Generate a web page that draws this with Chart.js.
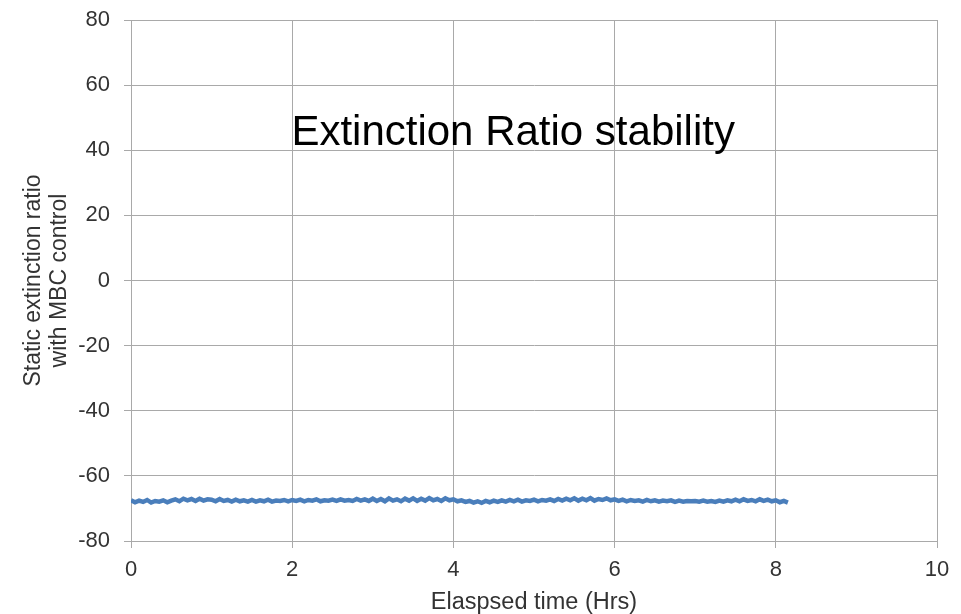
<!DOCTYPE html>
<html>
<head>
<meta charset="utf-8">
<script src="https://cdn.jsdelivr.net/npm/chart.js@4"></script>
<style>
    body { margin: 0; background: #fff; }
    #wrap { width: 961px; height: 614px; position: relative; }
</style>
</head>
<body>
<div id="wrap"><canvas id="erChart"></canvas></div>
<script>
// Extinction ratio stability data (sampled every 0.05 hrs)
const sampleStepHrs = 0.05;
const extinctionRatio = [
    -67.5, -68.1, -67.6, -68.0, -67.4, -68.2, -67.7, -67.9, -67.5, -68.1,
    -67.6, -67.2, -67.8, -67.0, -67.5, -67.1, -67.7, -67.0, -67.6, -67.2,
    -67.3, -67.8, -67.1, -67.7, -67.4, -67.9, -67.3, -67.8, -67.5, -67.9,
    -67.4, -67.9, -67.5, -67.8, -67.3, -67.9, -67.6, -67.7, -67.4, -67.8,
    -67.4, -67.7, -67.3, -67.8, -67.4, -67.6, -67.2, -67.8, -67.5, -67.6,
    -67.3, -67.7, -67.2, -67.6, -67.4, -67.7, -67.1, -67.6, -67.2, -67.7,
    -67.0, -67.7, -67.1, -67.8, -66.9, -67.6, -67.2, -67.8, -67.0, -67.6,
    -66.9, -67.7, -67.0, -67.6, -66.8, -67.5, -67.1, -67.7, -66.9, -67.5,
    -67.2, -67.8, -67.5, -68.0, -67.7, -68.2, -67.8, -68.3, -67.7, -68.1,
    -67.6, -68.0, -67.5, -67.9, -67.4, -67.8, -67.3, -67.9, -67.5, -67.7,
    -67.3, -67.8, -67.4, -67.6, -67.2, -67.7, -67.1, -67.6, -67.0, -67.5,
    -66.9, -67.6, -67.0, -67.5, -66.8, -67.6, -67.1, -67.4, -66.9, -67.5,
    -67.2, -67.7, -67.3, -67.8, -67.4, -67.7, -67.5, -67.9, -67.4, -67.8,
    -67.5, -67.9, -67.6, -67.8, -67.5, -68.0, -67.6, -67.9, -67.7, -67.8,
    -67.7, -67.9, -67.6, -67.9, -67.7, -68.0, -67.6, -67.9, -67.5, -67.8,
    -67.3, -67.8, -67.2, -67.7, -67.4, -67.8, -67.2, -67.7, -67.3, -67.8,
    -67.5, -68.1, -67.7, -68.2
];
const xTicks = [0, 2, 4, 6, 8, 10];
const yTicks = [-80, -60, -40, -20, 0, 20, 40, 60, 80];
const chartTitle = 'Extinction Ratio stability';
const xTitle = 'Elaspsed time (Hrs)';
const yTitle = ['Static extinction ratio', 'with MBC control'];

const points = extinctionRatio.map((v, i) => ({ x: i * sampleStepHrs, y: v }));

Chart.defaults.font.family = '"Liberation Sans", Arial, sans-serif';
Chart.defaults.color = '#333333';

// title sits inside the plot area, left edge on the x=2 gridline
const innerTitle = {
    id: 'innerTitle',
    afterDatasetsDraw(chart) {
        const c = chart.ctx;
        const x = chart.scales.x.getPixelForValue(1.99);
        const y = chart.scales.y.getPixelForValue(41.6);
        c.save();
        c.font = '42px "Liberation Sans", Arial, sans-serif';
        c.fillStyle = '#000000';
        c.textAlign = 'left';
        c.textBaseline = 'alphabetic';
        c.fillText(chartTitle, x, y);
        c.restore();
    }
};

const gridColor = '#a9a9a9';

var ctx = document.getElementById('erChart');
var erChart = new Chart(ctx, {
    type: 'line',
    data: {
        datasets: [{
            data: points,
            borderColor: '#4a7ebb',
            backgroundColor: '#4a7ebb',
            borderWidth: 4.5,
            pointRadius: 0,
            tension: 0,
            fill: false
        }]
    },
    options: {
        responsive: true,
        maintainAspectRatio: false,
        animation: false,
        layout: {
            padding: { left: 0, right: 24, top: 20, bottom: 0 }
        },
        scales: {
            x: {
                type: 'linear',
                min: xTicks[0],
                max: xTicks[xTicks.length - 1],
                afterBuildTicks: (scale) => { scale.ticks = xTicks.map(v => ({ value: v })); },
                afterFit: (scale) => { scale.height = 73; scale.paddingLeft = 0; scale.paddingRight = 0; },
                grid: { color: gridColor, tickColor: gridColor, tickLength: 7 },
                border: { color: gridColor },
                ticks: { font: { size: 22 }, color: '#333333', padding: 9 },
                title: {
                    display: true,
                    text: xTitle,
                    font: { size: 23.5, lineHeight: 1 },
                    color: '#333333',
                    padding: { top: 0, bottom: 0 }
                }
            },
            y: {
                min: yTicks[0],
                max: yTicks[yTicks.length - 1],
                afterBuildTicks: (scale) => { scale.ticks = yTicks.map(v => ({ value: v })); },
                afterFit: (scale) => { scale.width = 131; scale.paddingTop = 0; scale.paddingBottom = 0; },
                grid: { color: gridColor, tickColor: gridColor, tickLength: 7 },
                border: { color: gridColor },
                ticks: { font: { size: 22 }, color: '#333333', padding: 14 },
                title: {
                    display: true,
                    text: yTitle,
                    font: { size: 23, lineHeight: 26 / 23 },
                    color: '#333333',
                    padding: { top: 21, bottom: 0 }
                }
            }
        },
        plugins: {
            legend: { display: false },
            tooltip: { enabled: false }
        }
    },
    plugins: [innerTitle]
});
</script>
</body>
</html>
